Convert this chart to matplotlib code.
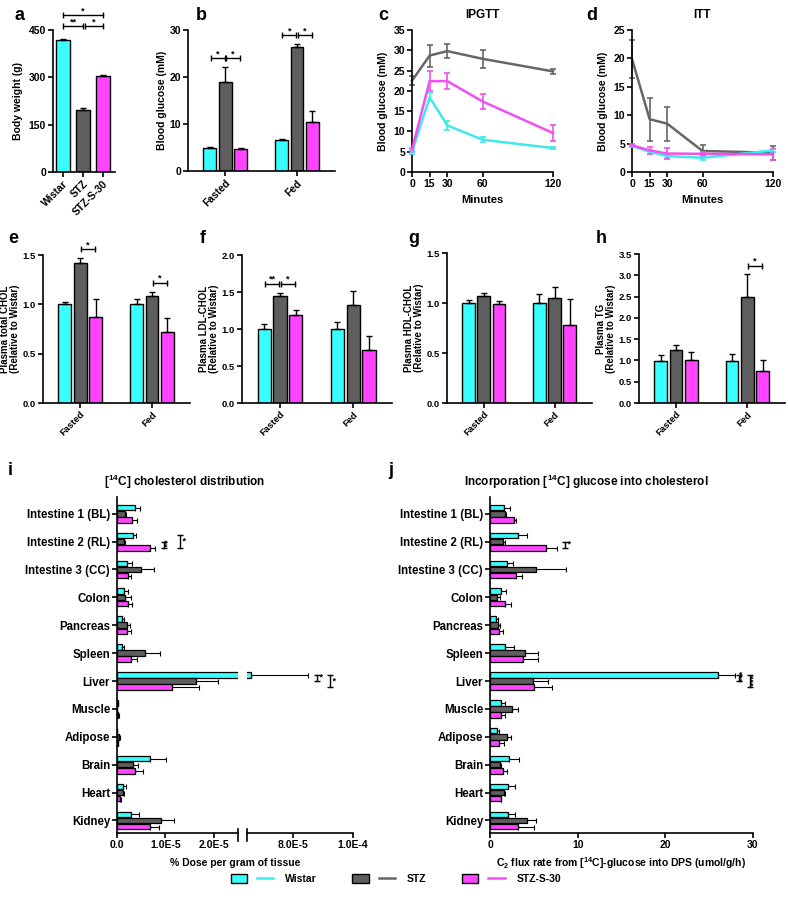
import numpy as np
import matplotlib
matplotlib.use("Agg")
import matplotlib.pyplot as plt
from matplotlib.patches import Patch
from matplotlib.lines import Line2D
from matplotlib.legend_handler import HandlerTuple

plt.rcParams['font.family'] = ['Liberation Sans', 'DejaVu Sans']
plt.rcParams['font.weight'] = 'bold'
plt.rcParams['axes.labelweight'] = 'bold'
plt.rcParams['axes.titleweight'] = 'bold'
plt.rcParams['mathtext.default'] = 'regular'
plt.rcParams['font.size'] = 7.5
plt.rcParams['axes.linewidth'] = 1.2
plt.rcParams['xtick.major.width'] = 1.2
plt.rcParams['ytick.major.width'] = 1.2
plt.rcParams['xtick.major.size'] = 3.5
plt.rcParams['ytick.major.size'] = 3.5

# ---- data ----
groups = ['Wistar', 'STZ', 'STZ-S-30']
conditions = ['Fasted', 'Fed']

body_weight = [418, 197, 303]
body_weight_err = [5, 6, 5]

# rows = conditions (Fasted, Fed), cols = groups
glucose = [[4.9, 18.9, 4.6], [6.6, 26.3, 10.5]]
glucose_err = [[0.2, 3.2, 0.2], [0.2, 0.8, 2.3]]

minutes = [0, 15, 30, 60, 120]
ipgtt_wistar = [4.9, 18.4, 11.5, 7.95, 5.9]
ipgtt_wistar_err = [0.5, 1.0, 1.1, 0.6, 0.2]
ipgtt_stz = [22.5, 28.7, 29.8, 27.9, 24.8]
ipgtt_stz_err = [1.1, 2.7, 1.8, 2.2, 0.7]
ipgtt_s30 = [5.5, 22.4, 22.4, 17.4, 9.6]
ipgtt_s30_err = [0.5, 2.4, 2.0, 1.9, 1.9]

itt_wistar = [4.6, 3.55, 2.8, 2.5, 3.8]
itt_wistar_err = [0.2, 0.3, 0.3, 0.3, 0.3]
itt_stz = [19.9, 9.3, 8.5, 3.7, 3.4]
itt_stz_err = [3.4, 3.8, 3.0, 1.0, 1.2]
itt_s30 = [4.7, 3.8, 3.25, 3.2, 3.1]
itt_s30_err = [0.2, 0.6, 0.9, 0.4, 1.0]

tchol = [[1.0, 1.42, 0.876], [1.0, 1.085, 0.715]]
tchol_err = [[0.02, 0.05, 0.18], [0.05, 0.045, 0.145]]
ldl = [[1.0, 1.44, 1.19], [1.0, 1.32, 0.72]]
ldl_err = [[0.065, 0.05, 0.07], [0.1, 0.19, 0.18]]
hdl = [[1.0, 1.073, 0.987], [1.0, 1.05, 0.783]]
hdl_err = [[0.033, 0.027, 0.03], [0.09, 0.11, 0.257]]
tg = [[0.99, 1.25, 1.0], [0.99, 2.48, 0.74]]
tg_err = [[0.13, 0.12, 0.19], [0.16, 0.55, 0.28]]

tissues = ['Intestine 1 (BL)', 'Intestine 2 (RL)', 'Intestine 3 (CC)', 'Colon',
           'Pancreas', 'Spleen', 'Liver', 'Muscle', 'Adipose', 'Brain', 'Heart', 'Kidney']

# % dose per gram, in units of 1E-6
chol_wistar = [3.8, 3.3, 2.1, 1.5, 1.0, 1.0, 66.0, 0.2, 0.1, 6.8, 1.2, 2.9]
chol_wistar_err = [1.0, 0.7, 0.9, 0.8, 0.35, 0.5, 19.0, 0.0, 0.0, 3.3, 0.7, 1.6]
chol_stz = [1.7, 1.4, 5.0, 1.6, 2.1, 5.7, 16.4, 0.1, 0.5, 3.4, 1.2, 9.1]
chol_stz_err = [0.2, 0.3, 2.6, 1.2, 0.5, 3.2, 4.4, 0.0, 0.2, 1.0, 0.2, 2.6]
chol_s30 = [3.0, 6.8, 2.3, 2.3, 2.1, 2.8, 11.4, 0.3, 0.3, 3.8, 0.7, 6.9]
chol_s30_err = [1.1, 1.0, 0.5, 0.7, 0.7, 1.4, 5.6, 0.1, 0.0, 1.6, 0.1, 1.7]

flux_wistar = [1.6, 3.2, 1.9, 1.2, 0.7, 1.75, 26.0, 1.2, 0.85, 2.2, 2.0, 2.0]
flux_wistar_err = [0.65, 1.0, 0.75, 0.6, 0.25, 1.0, 2.0, 0.55, 0.2, 1.1, 0.85, 0.8]
flux_stz = [1.7, 1.5, 5.2, 0.8, 0.9, 4.0, 4.9, 2.5, 1.9, 1.1, 1.6, 4.2]
flux_stz_err = [0.1, 0.25, 3.5, 0.3, 0.2, 1.5, 1.75, 0.75, 0.55, 0.2, 0.1, 1.0]
flux_s30 = [2.7, 6.4, 3.0, 1.75, 1.0, 3.8, 5.0, 1.2, 1.0, 1.5, 1.2, 3.2]
flux_s30_err = [0.3, 1.2, 0.7, 0.7, 0.45, 1.7, 2.1, 0.5, 0.55, 0.45, 0.1, 1.85]

BAR_COLS = ['#3AFFFF', '#5E5E5E', '#FF44FF']
LINE_COLS = ['#3EEAEA', '#666666', '#F050F0']

W, H = 788, 913
fig = plt.figure(figsize=(W / 100, H / 100), dpi=100)


def ax_px(l, t, r, b):
    return fig.add_axes([l / W, 1 - b / H, (r - l) / W, (b - t) / H])


def prism(ax):
    ax.spines['top'].set_visible(False)
    ax.spines['right'].set_visible(False)
    ax.tick_params(direction='out', pad=1.5)


def bracket(ax, x1, x2, y, txt, fs=6.5):
    ax.plot([x1, x2], [y, y], color='k', lw=1, marker='|', ms=5, mew=1, clip_on=False)
    ax.text((x1 + x2) / 2, y, txt, ha='center', va='bottom', fontsize=fs)


def vbracket(ax, x, y1, y2, txt, rot=0):
    ax.plot([x, x], [y1, y2], color='k', lw=1, marker='_', ms=5, mew=1, clip_on=False)
    ax.text(x, (y1 + y2) / 2, ' ' + txt, ha='left', va='center', fontsize=6.5, rotation=rot)


def grouped(ax, means, errs, ylim, yticks, ylabel, sigs, fmt='%.1f', lab_fs=7.5, tick_fs=7.5):
    prism(ax)
    off = 0.215
    for g in range(3):
        x = np.arange(2) + (g - 1) * off
        vals = [m[g] for m in means]
        ee = [e[g] for e in errs]
        ax.bar(x, vals, 0.18, color=BAR_COLS[g], edgecolor='k', lw=1)
        ax.errorbar(x, vals, yerr=[np.zeros(2), ee], fmt='none', ecolor='k',
                    elinewidth=1, capsize=2.5, capthick=1)
    ax.set_xlim(-0.52, 1.53)
    ax.set_ylim(*ylim)
    ax.set_yticks(yticks)
    ax.set_yticklabels([fmt % v for v in yticks], fontsize=tick_fs)
    ax.set_xticks([0, 1])
    ax.set_xticklabels(conditions, rotation=45, ha='right', rotation_mode='anchor',
                       fontsize=tick_fs)
    ax.set_ylabel(ylabel, labelpad=2, fontsize=lab_fs, linespacing=1.0)
    for c, g1, g2, y, t in sigs:
        bracket(ax, c + (g1 - 1) * off + 0.01, c + (g2 - 1) * off - 0.01, y, t)


# ---- a ----
ax = ax_px(53, 30, 115, 172)
prism(ax)
xa = np.arange(3)
ax.bar(xa, body_weight, 0.66, color=BAR_COLS, edgecolor='k', lw=1)
ax.errorbar(xa, body_weight, yerr=[np.zeros(3), body_weight_err], fmt='none', ecolor='k',
            elinewidth=1, capsize=2.5, capthick=1)
ax.set_xlim(-0.5, 2.6)
ax.set_ylim(0, 450)
ax.set_yticks([0, 150, 300, 450])
ax.set_xticks(xa)
ax.set_xticklabels(groups, rotation=45, ha='right', rotation_mode='anchor')
ax.set_ylabel('Body weight (g)')
bracket(ax, 0.02, 0.98, 462, '**')
bracket(ax, 1.08, 1.98, 462, '*')
bracket(ax, 0.02, 1.98, 497, '*')

# ---- b ----
ax = ax_px(188, 30, 335, 171)
grouped(ax, glucose, glucose_err, (0, 30), [0, 10, 20, 30], 'Blood glucose (mM)',
        [(0, 0, 1, 24, '*'), (0, 1, 2, 24, '*'), (1, 0, 1, 28.9, '*'), (1, 1, 2, 28.9, '*')],
        fmt='%d')

# ---- c, d ----
for (l, r), title, series, ymax in [
        ((412, 553), 'IPGTT', [(ipgtt_wistar, ipgtt_wistar_err), (ipgtt_stz, ipgtt_stz_err),
                               (ipgtt_s30, ipgtt_s30_err)], 35),
        ((632, 773), 'ITT', [(itt_wistar, itt_wistar_err), (itt_stz, itt_stz_err),
                             (itt_s30, itt_s30_err)], 25)]:
    ax = ax_px(l, 30, r, 172)
    prism(ax)
    for k in [0, 2, 1]:
        v, e = series[k]
        ax.errorbar(minutes, v, yerr=e, color=LINE_COLS[k], lw=1.8, elinewidth=1.2,
                    capsize=2.5, capthick=1.2, clip_on=False, zorder=3 if k != 1 else 2)
    ax.set_xlim(0, 120)
    ax.set_ylim(0, ymax)
    ax.set_yticks(np.arange(0, ymax + 1, 5))
    ax.set_xticks(minutes)
    ax.set_xlabel('Minutes', fontsize=8)
    ax.set_ylabel('Blood glucose (mM)')
    ax.set_title(title, fontsize=8.5, pad=9)

# ---- e-h ----
ax = ax_px(43, 255, 190, 403)
grouped(ax, tchol, tchol_err, (0, 1.5), [0, 0.5, 1.0, 1.5],
        'Plasma total CHOL\n(Relative to Wistar)',
        [(0, 1, 2, 1.557, '*'), (1, 1, 2, 1.22, '*')], lab_fs=7, tick_fs=6.8)
ax = ax_px(242, 255, 392, 403)
grouped(ax, ldl, ldl_err, (0, 2.0), [0, 0.5, 1.0, 1.5, 2.0],
        'Plasma LDL-CHOL\n(Relative to Wistar)',
        [(0, 0, 1, 1.61, '**'), (0, 1, 2, 1.61, '*')], lab_fs=7, tick_fs=6.8)
ax = ax_px(447, 253, 592, 403)
grouped(ax, hdl, hdl_err, (0, 1.5), [0, 0.5, 1.0, 1.5],
        'Plasma HDL-CHOL\n(Relative to Wistar)', [], lab_fs=7, tick_fs=6.8)
ax = ax_px(639, 254, 785, 403)
grouped(ax, tg, tg_err, (0, 3.5), [0, 0.5, 1.0, 1.5, 2.0, 2.5, 3.0, 3.5],
        'Plasma TG\n(Relative to Wistar)', [(1, 1, 2, 3.22, '*')], lab_fs=7, tick_fs=6.8)


# ---- i, j ----
def hbars(ax, vals, errs, scale=1.0):
    yy = np.arange(len(tissues))
    off = 0.22
    for g in range(3):
        v = np.array(vals[g]) * scale
        e = np.array(errs[g]) * scale
        ax.barh(yy + (g - 1) * off, v, 0.2, color=BAR_COLS[g], edgecolor='k', lw=0.9)
        ax.errorbar(v, yy + (g - 1) * off, xerr=[np.zeros(len(v)), e], fmt='none',
                    ecolor='k', elinewidth=0.8, capsize=1.8, capthick=0.8)
    ax.set_ylim(11.45, -0.6)
    ax.set_yticks(yy)


chol_vals = [chol_wistar, chol_stz, chol_s30]
chol_errs = [chol_wistar_err, chol_stz_err, chol_s30_err]

axi = ax_px(117, 497, 238, 833)
prism(axi)
hbars(axi, chol_vals, chol_errs, 1e-6)
axi.set_xlim(0, 2.5e-5)
axi.set_xticks([0, 1e-5, 2e-5])
axi.set_xticklabels(['0.0', '1.0E-5', '2.0E-5'])
axi.set_yticklabels(tissues, fontsize=8.3)
axi.plot([1, 1], [-0.025, 0.012], transform=axi.transAxes, color='k', lw=1.2, clip_on=False)
vbracket(axi, 0.97e-5, 1 + 0.0, 1 + 0.22, '**', rot=90)
vbracket(axi, 1.3e-5, 1 - 0.22, 1 + 0.22, '*')
axi.set_title(r'[$^{14}$C] cholesterol distribution', fontsize=8.5, pad=8, x=0.56)

axi2 = ax_px(247, 497, 353, 833)
prism(axi2)
axi2.spines['left'].set_visible(False)
hbars(axi2, chol_vals, chol_errs, 1e-6)
axi2.set_xlim(6.47e-5, 1.0e-4)
axi2.set_xticks([8e-5, 1e-4])
axi2.set_xticklabels(['8.0E-5', '1.0E-4'])
axi2.set_yticks([])
axi2.plot([0, 0], [-0.025, 0.012], transform=axi2.transAxes, color='k', lw=1.2, clip_on=False)
vbracket(axi2, 8.8e-5, 6 - 0.22, 6 + 0.0, '*')
vbracket(axi2, 9.25e-5, 6 - 0.22, 6 + 0.22, '*')
fig.text((117 + 353) / 2 / W, 1 - 863 / H, '% Dose per gram of tissue', ha='center', va='center',
         fontsize=7.5, fontweight='bold')

axj = ax_px(490, 497, 753, 833)
prism(axj)
hbars(axj, [flux_wistar, flux_stz, flux_s30], [flux_wistar_err, flux_stz_err, flux_s30_err])
axj.set_xlim(0, 30)
axj.set_xticks([0, 10, 20, 30])
axj.set_yticklabels(tissues, fontsize=8.3)
axj.set_xlabel(r'C$_2$ flux rate from [$^{14}$C]-glucose into DPS (umol/g/h)', labelpad=4)
axj.set_title(r'Incorporation [$^{14}$C] glucose into cholesterol', fontsize=8.5, pad=8, x=0.365)
vbracket(axj, 8.6, 1, 1 + 0.22, '*')
vbracket(axj, 28.4, 6 - 0.22, 6, '***', rot=90)
vbracket(axj, 29.7, 6 - 0.22, 6 + 0.22, '***', rot=90)

# ---- panel letters ----
for t, x, y in [('a', 14, 16), ('b', 196, 16), ('c', 378, 16), ('d', 586, 16),
                ('e', 8, 238), ('f', 200, 238), ('g', 408, 238), ('h', 596, 238),
                ('i', 8, 470), ('j', 388, 470)]:
    fig.text(x / W, 1 - y / H, t, fontsize=13, fontweight='bold', va='center')

# ---- legend ----
handles = [(Patch(facecolor=BAR_COLS[k], edgecolor='k', lw=1),
            Line2D([], [], color=LINE_COLS[k], lw=1.8)) for k in range(3)]
fig.legend(handles, groups, loc='center', bbox_to_anchor=(396 / W, 1 - 879 / H), ncol=3,
           frameon=False, handler_map={tuple: HandlerTuple(ndivide=None, pad=0.95)},
           handlelength=4.1, handleheight=1.0, columnspacing=3.4, handletextpad=1.15,
           fontsize=7.5)

fig.savefig('out.png', dpi=100)
